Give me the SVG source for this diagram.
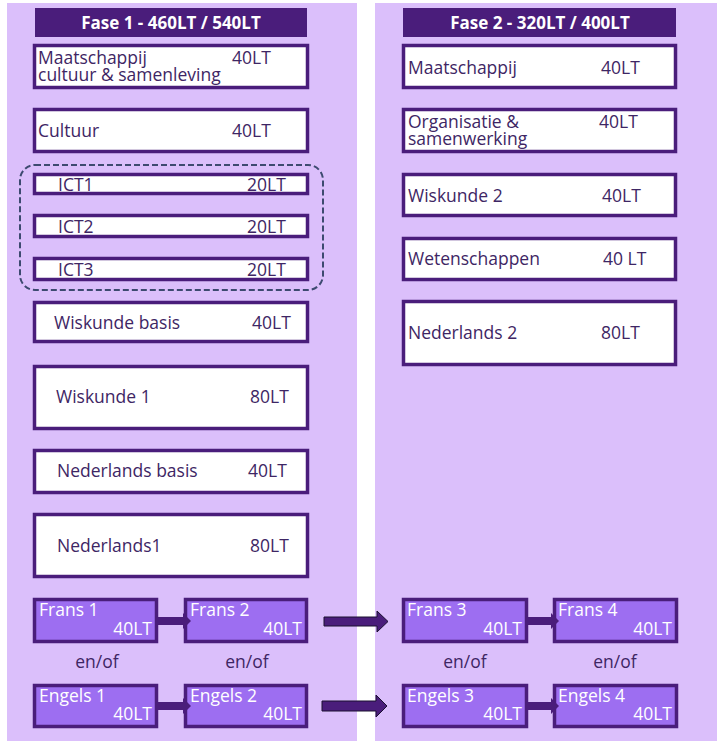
<svg xmlns="http://www.w3.org/2000/svg" width="719" height="743" viewBox="0 0 719 743">
<style>
  .panel{fill:#dbbffb}
  .hdr{fill:#4a1d7b}
  .hdrt{fill:#ffffff;font-family:"Open Sans","Liberation Sans",sans-serif;font-weight:bold;font-size:17px;text-anchor:middle}
  .box{fill:#ffffff;stroke:#4a1d7b;stroke-width:3.5}
  .pbox{fill:#9d6ef1;stroke:#4a1d7b;stroke-width:3.5}
  .t{fill:#3e2664;font-family:"Open Sans","Liberation Sans",sans-serif;font-size:17.5px}
  .w{fill:#ffffff;font-family:"Open Sans","Liberation Sans",sans-serif;font-size:17.5px}
  .r{text-anchor:end}
  .m{text-anchor:middle}
  .arr{fill:#4a1d7b}
  .big{fill:#4a1d7b;stroke:#1a1030;stroke-width:1}
  .grp{fill:none;stroke:#3d4a70;stroke-width:2;stroke-dasharray:6 3}
</style>
<rect width="719" height="743" fill="#ffffff"/>
<rect class="panel" x="7" y="3" width="350" height="738"/>
<rect class="panel" x="375" y="3" width="342" height="738"/>

<g id="hdr1"><rect class="hdr" x="35" y="8" width="272" height="29"/><text class="hdrt" x="171" y="29">Fase 1 - 460LT / 540LT</text></g>
<g id="hdr2"><rect class="hdr" x="403" y="8" width="273" height="29"/><text class="hdrt" x="540" y="29">Fase 2 - 320LT / 400LT</text></g>

<g id="ictgroup"><rect class="grp" x="20" y="165" width="303" height="125" rx="15"/></g>

<g id="maat1"><rect class="box" x="34.500" y="45.500" width="273" height="42"/><text class="t" x="38" y="63.500">Maatschappij<tspan x="38" y="81">cultuur &amp; samenleving</tspan></text><text class="t" x="232" y="63.500">40LT</text></g>
<g id="cultuur"><rect class="box" x="34.500" y="109.500" width="273" height="42"/><text class="t" x="38" y="137">Cultuur</text><text class="t" x="232" y="137">40LT</text></g>
<g id="ict1"><rect class="box" x="34.500" y="174.500" width="273" height="19"/><text class="t" x="58" y="191">ICT1</text><text class="t" x="247" y="191">20LT</text></g>
<g id="ict2"><rect class="box" x="34.500" y="215.500" width="273" height="21"/><text class="t" x="58" y="233">ICT2</text><text class="t" x="247" y="233">20LT</text></g>
<g id="ict3"><rect class="box" x="34.500" y="258.500" width="273" height="21"/><text class="t" x="58" y="276">ICT3</text><text class="t" x="247" y="276">20LT</text></g>
<g id="wisbasis"><rect class="box" x="34.500" y="302.500" width="273" height="39"/><text class="t" x="54" y="329">Wiskunde basis</text><text class="t" x="252" y="329">40LT</text></g>
<g id="wis1"><rect class="box" x="34.500" y="366.500" width="273" height="62"/><text class="t" x="56" y="403">Wiskunde 1</text><text class="t" x="250" y="403">80LT</text></g>
<g id="nedbasis"><rect class="box" x="34.500" y="450.500" width="273" height="42"/><text class="t" x="57" y="477">Nederlands basis</text><text class="t" x="248" y="477">40LT</text></g>
<g id="ned1"><rect class="box" x="34.500" y="514.500" width="273" height="62"/><text class="t" x="57" y="552">Nederlands1</text><text class="t" x="250" y="552">80LT</text></g>

<g id="maat2"><rect class="box" x="403.500" y="45.500" width="272" height="42"/><text class="t" x="408" y="74">Maatschappij</text><text class="t" x="601" y="74">40LT</text></g>
<g id="org"><rect class="box" x="403.500" y="109.500" width="272" height="42"/><text class="t" x="408" y="127.500">Organisatie &amp;<tspan x="408" y="145">samenwerking</tspan></text><text class="t" x="599" y="127.500">40LT</text></g>
<g id="wis2"><rect class="box" x="403.500" y="174.500" width="272" height="41"/><text class="t" x="408" y="202">Wiskunde 2</text><text class="t" x="602" y="202">40LT</text></g>
<g id="weten"><rect class="box" x="403.500" y="238.500" width="272" height="41"/><text class="t" x="408" y="265">Wetenschappen</text><text class="t" x="603" y="265">40 LT</text></g>
<g id="ned2"><rect class="box" x="403.500" y="301.500" width="272" height="63"/><text class="t" x="408" y="339">Nederlands 2</text><text class="t" x="601" y="339">80LT</text></g>

<g id="frans1"><rect class="pbox" x="34.500" y="599.500" width="122" height="42"/><text class="w" x="39" y="616">Frans 1</text><text class="w r" x="152" y="635">40LT</text></g>
<g id="frans2"><rect class="pbox" x="185.500" y="599.500" width="121" height="42"/><text class="w" x="190" y="616">Frans 2</text><text class="w r" x="302" y="635">40LT</text></g>
<g id="frans3"><rect class="pbox" x="403.500" y="599.500" width="123" height="42"/><text class="w" x="407" y="616">Frans 3</text><text class="w r" x="522" y="635">40LT</text></g>
<g id="frans4"><rect class="pbox" x="554.500" y="599.500" width="122" height="42"/><text class="w" x="558" y="616">Frans 4</text><text class="w r" x="672" y="635">40LT</text></g>

<g id="engels1"><rect class="pbox" x="34.500" y="685.500" width="122" height="41"/><text class="w" x="39" y="702">Engels 1</text><text class="w r" x="152" y="720">40LT</text></g>
<g id="engels2"><rect class="pbox" x="185.500" y="685.500" width="121" height="41"/><text class="w" x="190" y="702">Engels 2</text><text class="w r" x="302" y="720">40LT</text></g>
<g id="engels3"><rect class="pbox" x="403.500" y="685.500" width="123" height="41"/><text class="w" x="407" y="702">Engels 3</text><text class="w r" x="522" y="720">40LT</text></g>
<g id="engels4"><rect class="pbox" x="554.500" y="685.500" width="122" height="41"/><text class="w" x="558" y="702">Engels 4</text><text class="w r" x="672" y="720">40LT</text></g>

<g id="labels">
<text class="t m" x="97" y="668">en/of</text>
<text class="t m" x="247" y="668">en/of</text>
<text class="t m" x="465" y="668">en/of</text>
<text class="t m" x="615" y="668">en/of</text>
</g>

<g id="connectors">
<polygon class="arr" points="158,617 183,617 183,613 191,621 183,629 183,625 158,625"/>
<polygon class="arr" points="158,702 183,702 183,698 191,706 183,714 183,710 158,710"/>
<polygon class="arr" points="528,617 551,617 551,613 559,621 551,629 551,625 528,625"/>
<polygon class="arr" points="528,702 551,702 551,698 559,706 551,714 551,710 528,710"/>
<polygon class="big" points="324,617 377,617 377,611 388,621.500 377,632 377,626 324,626"/>
<polygon class="big" points="322,701 376,701 376,695 387,706 376,717 376,711 322,711"/>
</g>
</svg>
